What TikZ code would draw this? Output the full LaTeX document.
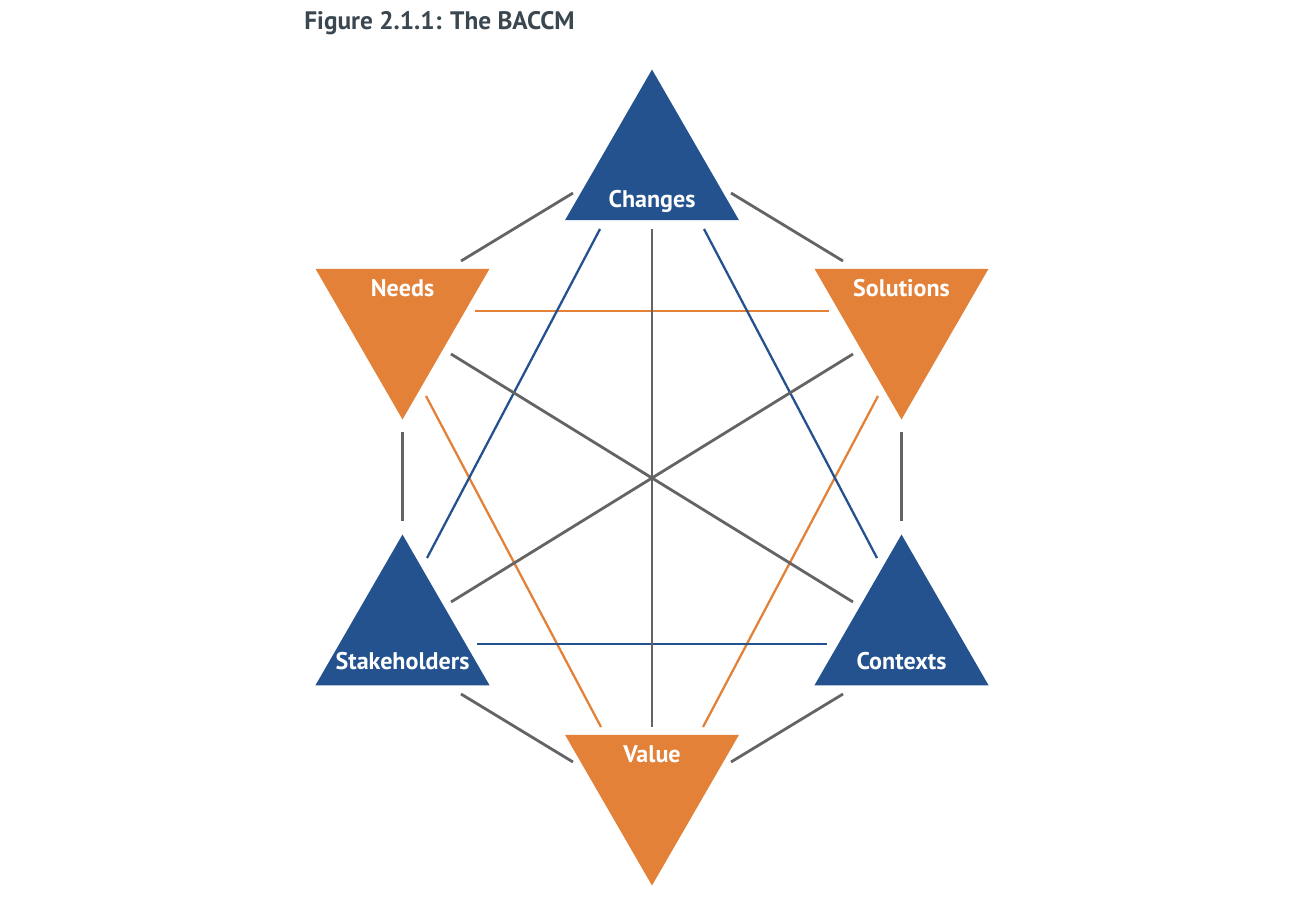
\documentclass[tikz,border=0pt]{standalone}
\usepackage{fontspec}
\setmainfont{PT Sans}
\usetikzlibrary{shapes.geometric,calc}
\definecolor{bablue}{RGB}{35,82,142}
\definecolor{baorange}{RGB}{227,129,57}
\definecolor{bagray}{RGB}{100,100,100}
\definecolor{batitle}{RGB}{58,71,80}
\begin{document}
\begin{tikzpicture}[x=0.02cm, y=-0.02cm,
  tri/.style={regular polygon, regular polygon sides=3, minimum size=4.02cm, inner sep=0pt, outer sep=0pt},
  up/.style={tri, fill=bablue},
  down/.style={tri, fill=baorange, regular polygon rotate=180},
  lbl/.style={anchor=base, text=white, font=\bfseries\fontsize{13.7}{16}\selectfont},
  gline/.style={draw=bagray, line width=1.6pt},
  bline/.style={draw=bablue, line width=1.3pt},
  oline/.style={draw=baorange, line width=1.3pt}
]
  \useasboundingbox (0,0) rectangle (1308,900);
  \node[anchor=base west, inner sep=0pt, text=batitle, font=\bfseries\fontsize{14.4}{16}\selectfont] (title) at (304,29) {Figure 2.1.1: The BACCM};

  % line ends, named after the two corners they join
  \coordinate (chg-nd) at (573,193);   \coordinate (nd-chg) at (461,261);
  \coordinate (chg-sol) at (731,193);  \coordinate (sol-chg) at (843,261);
  \coordinate (chg-val) at (652,229);  \coordinate (val-chg) at (652,727);
  \coordinate (chg-stk) at (600,229);  \coordinate (stk-chg) at (427,558);
  \coordinate (chg-ctx) at (704,229);  \coordinate (ctx-chg) at (877,558);
  \coordinate (nd-stk) at (402.5,432); \coordinate (stk-nd) at (402.5,521);
  \coordinate (nd-sol) at (475,311);   \coordinate (sol-nd) at (829,311);
  \coordinate (nd-val) at (426,396);   \coordinate (val-nd) at (601,727);
  \coordinate (nd-ctx) at (451,354);   \coordinate (ctx-nd) at (853,602);
  \coordinate (sol-ctx) at (901.5,432);\coordinate (ctx-sol) at (901.5,521);
  \coordinate (sol-val) at (878,396);  \coordinate (val-sol) at (703,727);
  \coordinate (sol-stk) at (853,354);  \coordinate (stk-sol) at (451,602);
  \coordinate (stk-ctx) at (477,644);  \coordinate (ctx-stk) at (827,644);
  \coordinate (stk-val) at (461,694);  \coordinate (val-stk) at (573,762);
  \coordinate (ctx-val) at (843,694);  \coordinate (val-ctx) at (731,762);

  % orange and blue triangle
  \draw[oline] (nd-sol) -- (sol-nd);
  \draw[oline] (nd-val) -- (val-nd);
  \draw[oline] (sol-val) -- (val-sol);
  \draw[bline] (chg-stk) -- (stk-chg);
  \draw[bline] (chg-ctx) -- (ctx-chg);
  \draw[bline] (stk-ctx) -- (ctx-stk);
  % hexagon and diagonals
  \draw[gline] (chg-nd) -- (nd-chg);
  \draw[gline] (chg-sol) -- (sol-chg);
  \draw[gline] (nd-stk) -- (stk-nd);
  \draw[gline] (sol-ctx) -- (ctx-sol);
  \draw[gline] (stk-val) -- (val-stk);
  \draw[gline] (ctx-val) -- (val-ctx);
  \draw[gline] (chg-val) -- (val-chg);
  \draw[gline] (nd-ctx) -- (ctx-nd);
  \draw[gline] (sol-stk) -- (stk-sol);

  \node[up] (changes) at (652,170) {};
  \node[down] (needs) at (402.5,319) {};
  \node[down] (solutions) at (901.5,319) {};
  \node[up] (stakeholders) at (402.5,635) {};
  \node[up] (contexts) at (901.5,635) {};
  \node[down] (value) at (652,785) {};

  \node[lbl] (changes-lbl) at ($(changes)+(0,37)$) {Changes};
  \node[lbl] (needs-lbl) at ($(needs)+(0,-23)$) {Needs};
  \node[lbl] (solutions-lbl) at ($(solutions)+(0,-23)$) {Solutions};
  \node[lbl] (stakeholders-lbl) at ($(stakeholders)+(0,34)$) {Stakeholders};
  \node[lbl] (contexts-lbl) at ($(contexts)+(0,34)$) {Contexts};
  \node[lbl] (value-lbl) at ($(value)+(0,-23)$) {Value};
\end{tikzpicture}
\end{document}
